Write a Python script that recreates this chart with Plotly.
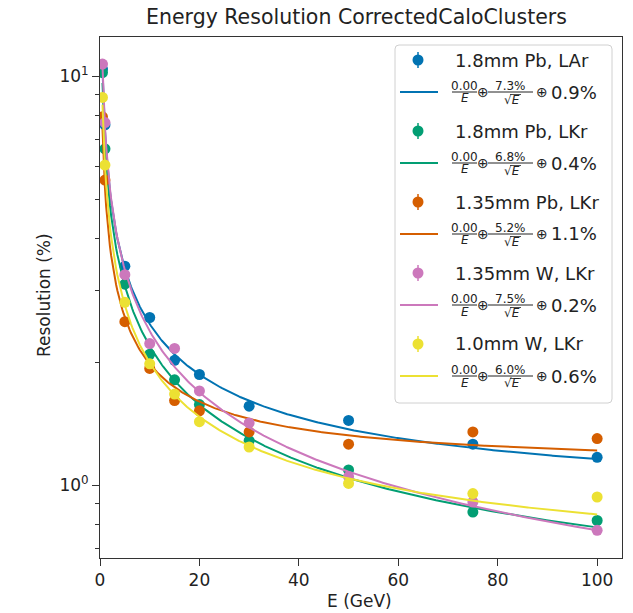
import numpy as np
import plotly.graph_objects as go

# ---------------- data ----------------
energies = [0.5, 1, 5, 10, 15, 20, 30, 50, 75, 100]

series_labels = ["1.8mm Pb, LAr", "1.8mm Pb, LKr", "1.35mm Pb, LKr",
                 "1.35mm W, LKr", "1.0mm W, LKr"]

res_pb18_lar = [10.4, 7.6, 3.43, 2.57, 2.02, 1.865, 1.56, 1.44, 1.26, 1.17]
res_pb18_lkr = [10.2, 6.64, 3.10, 2.09, 1.81, 1.575, 1.285, 1.09, 0.86, 0.82]
res_pb135_lkr = [7.95, 5.57, 2.51, 1.93, 1.61, 1.52, 1.35, 1.26, 1.35, 1.30]
res_w135_lkr = [10.7, 7.7, 3.27, 2.22, 2.16, 1.70, 1.42, 1.05, 0.91, 0.776]
res_w10_lkr = [8.87, 6.06, 2.80, 1.98, 1.67, 1.43, 1.24, 1.01, 0.954, 0.936]

# fit parameters shown in the legend: noise (a/E), sampling (b/sqrt(E)), constant (c)
noise_terms = [0.00, 0.00, 0.00, 0.00, 0.00]
sampling_terms = [7.3, 6.8, 5.2, 7.5, 6.0]
constant_terms = [0.9, 0.4, 1.1, 0.2, 0.6]

x_ticks = [0, 20, 40, 60, 80, 100]
y_ticks = [1, 10]
y_tick_text = ["10<sup>0</sup>", "10<sup>1</sup>"]
y_minor_ticks = [0.7, 0.8, 0.9, 2, 3, 4, 5, 6, 7, 8, 9]

# ---------------- style ----------------
colors = ["#0173b2", "#029e73", "#d55e00", "#cc78bc", "#ece133"]
FONT = "DejaVu Sans"
TXT = "#222222"
AX = "#333333"

OFF = 8                      # page body margin of the browser
W, H = 633 - OFF, 613 - OFF  # figure size
# plot area in reference-window pixels
L, R, T, B = 100, 622, 37, 558


def px(x):
    return (x - L) / (R - L)


def py(y):
    return (B - y) / (B - T)


all_series = [res_pb18_lar, res_pb18_lkr, res_pb135_lkr, res_w135_lkr, res_w10_lkr]

fig = go.Figure()
e_fit = np.linspace(min(energies), max(energies), 400)
for i, vals in enumerate(all_series):
    fig.add_trace(go.Scatter(
        x=energies, y=vals, mode="markers",
        marker=dict(size=11, color=colors[i], line=dict(width=0)),
        name=series_labels[i], showlegend=False))
    fit = np.sqrt((noise_terms[i] / e_fit) ** 2 + (sampling_terms[i] / np.sqrt(e_fit)) ** 2
                  + constant_terms[i] ** 2)
    fig.add_trace(go.Scatter(
        x=e_fit, y=fit, mode="lines", line=dict(color=colors[i], width=2),
        showlegend=False))

shapes = []
annotations = []

# legend box (rounded)
bx0, bx1, by0, by1 = 395, 612, 45, 403
rad = 4
rx = rad / (R - L)
ry = rad / (B - T)
X0, X1, Y0, Y1 = px(bx0), px(bx1), py(by1), py(by0)
path = (f"M {X0+rx},{Y0} L {X1-rx},{Y0} Q {X1},{Y0} {X1},{Y0+ry} "
        f"L {X1},{Y1-ry} Q {X1},{Y1} {X1-rx},{Y1} L {X0+rx},{Y1} "
        f"Q {X0},{Y1} {X0},{Y1-ry} L {X0},{Y0+ry} Q {X0},{Y0} {X0+rx},{Y0} Z")
shapes.append(dict(type="path", path=path, xref="paper", yref="paper",
                   fillcolor="rgba(255,255,255,0.9)", line=dict(color="#d0d0d0", width=1)))

row_step = 71
fs = 12
for i in range(len(series_labels)):
    yr = 60 + row_step * i
    yf = 92 + row_step * i
    c = colors[i]
    # marker with error bar
    shapes.append(dict(type="line", xref="paper", yref="paper", xsizemode="pixel",
                       ysizemode="pixel", xanchor=px(418), yanchor=py(yr),
                       x0=0, x1=0, y0=-8, y1=8, line=dict(color=c, width=1.5)))
    shapes.append(dict(type="circle", xref="paper", yref="paper", xsizemode="pixel",
                       ysizemode="pixel", xanchor=px(418), yanchor=py(yr),
                       x0=-5.5, x1=5.5, y0=-5.5, y1=5.5, fillcolor=c,
                       line=dict(width=0)))
    annotations.append(dict(text=series_labels[i], x=px(453), y=py(yr), xref="paper",
                            yref="paper", xanchor="left", yanchor="middle",
                            showarrow=False, font=dict(size=18, color=TXT, family=FONT)))
    # fit line symbol
    shapes.append(dict(type="line", xref="paper", yref="paper", x0=px(400), x1=px(438),
                       y0=py(yf), y1=py(yf), line=dict(color=c, width=2)))
    # fraction 1
    annotations.append(dict(text=f"{noise_terms[i]:.2f}", x=px(464.5), y=py(yf - 6),
                            xref="paper", yref="paper", xanchor="center", yanchor="middle",
                            showarrow=False, font=dict(size=fs, color=TXT, family=FONT)))
    shapes.append(dict(type="line", xref="paper", yref="paper", x0=px(452), x1=px(477),
                       y0=py(yf), y1=py(yf), line=dict(color=TXT, width=1)))
    annotations.append(dict(text="<i>E</i>", x=px(464.5), y=py(yf + 6.5),
                            xref="paper", yref="paper", xanchor="center", yanchor="middle",
                            showarrow=False, font=dict(size=fs, color=TXT, family=FONT)))
    annotations.append(dict(text="⊕", x=px(483), y=py(yf), xref="paper", yref="paper",
                            xanchor="center", yanchor="middle", showarrow=False,
                            font=dict(size=14, color=TXT, family=FONT)))
    # fraction 2
    annotations.append(dict(text=f"{sampling_terms[i]:.1f}%", x=px(510.5), y=py(yf - 6),
                            xref="paper", yref="paper", xanchor="center", yanchor="middle",
                            showarrow=False, font=dict(size=fs, color=TXT, family=FONT)))
    shapes.append(dict(type="line", xref="paper", yref="paper", x0=px(488), x1=px(533),
                       y0=py(yf), y1=py(yf), line=dict(color=TXT, width=1)))
    annotations.append(dict(text="√<i>E</i>", x=px(512), y=py(yf + 7.5),
                            xref="paper", yref="paper", xanchor="center", yanchor="middle",
                            showarrow=False, font=dict(size=fs, color=TXT, family=FONT)))
    shapes.append(dict(type="line", xref="paper", yref="paper", x0=px(510), x1=px(521),
                       y0=py(yf + 2.5), y1=py(yf + 2.5), line=dict(color=TXT, width=0.8)))
    annotations.append(dict(text="⊕", x=px(542), y=py(yf), xref="paper", yref="paper",
                            xanchor="center", yanchor="middle", showarrow=False,
                            font=dict(size=14, color=TXT, family=FONT)))
    annotations.append(dict(text=f"{constant_terms[i]:.1f}%", x=px(549), y=py(yf),
                            xref="paper", yref="paper", xanchor="left", yanchor="middle",
                            showarrow=False, font=dict(size=18, color=TXT, family=FONT)))

# title and axis titles
annotations.append(dict(text="Energy Resolution CorrectedCaloClusters", x=px(356), y=py(17.5),
                        xref="paper", yref="paper", xanchor="center", yanchor="middle",
                        showarrow=False, font=dict(size=20.5, color=TXT, family=FONT)))
annotations.append(dict(text="E (GeV)", x=px(359), y=py(601), xref="paper", yref="paper",
                        xanchor="center", yanchor="middle", showarrow=False,
                        font=dict(size=17, color=TXT, family=FONT)))
annotations.append(dict(text="Resolution (%)", x=px(44), y=py(295), xref="paper",
                        yref="paper", xanchor="center", yanchor="middle", textangle=-90,
                        showarrow=False, font=dict(size=17, color=TXT, family=FONT)))

fig.update_layout(
    width=W, height=H,
    margin=dict(l=L - OFF, r=(633 - R), t=T - OFF, b=(613 - B)),
    paper_bgcolor="white", plot_bgcolor="white",
    font=dict(family=FONT, color=TXT, size=17),
    showlegend=False,
    shapes=shapes, annotations=annotations,
    xaxis=dict(range=[0, 105], tickmode="array", tickvals=x_ticks,
               ticks="outside", ticklen=7, tickwidth=1, tickcolor=AX,
               showline=True, mirror=True, linecolor=AX, linewidth=1,
               showgrid=False, zeroline=False, tickfont=dict(size=17, color=TXT)),
    yaxis=dict(type="log", range=[np.log10(0.664), np.log10(12.46)],
               tickmode="array", tickvals=y_ticks, ticktext=y_tick_text,
               ticks="outside", ticklen=7, tickwidth=1, tickcolor=AX,
               showline=True, mirror=True, linecolor=AX, linewidth=1,
               showgrid=False, zeroline=False, tickfont=dict(size=17, color=TXT),
               minor=dict(tickmode="array", tickvals=y_minor_ticks, ticks="outside",
                          ticklen=4, tickwidth=1, tickcolor=AX, showgrid=False)),
)

fig.write_html("out.html")
